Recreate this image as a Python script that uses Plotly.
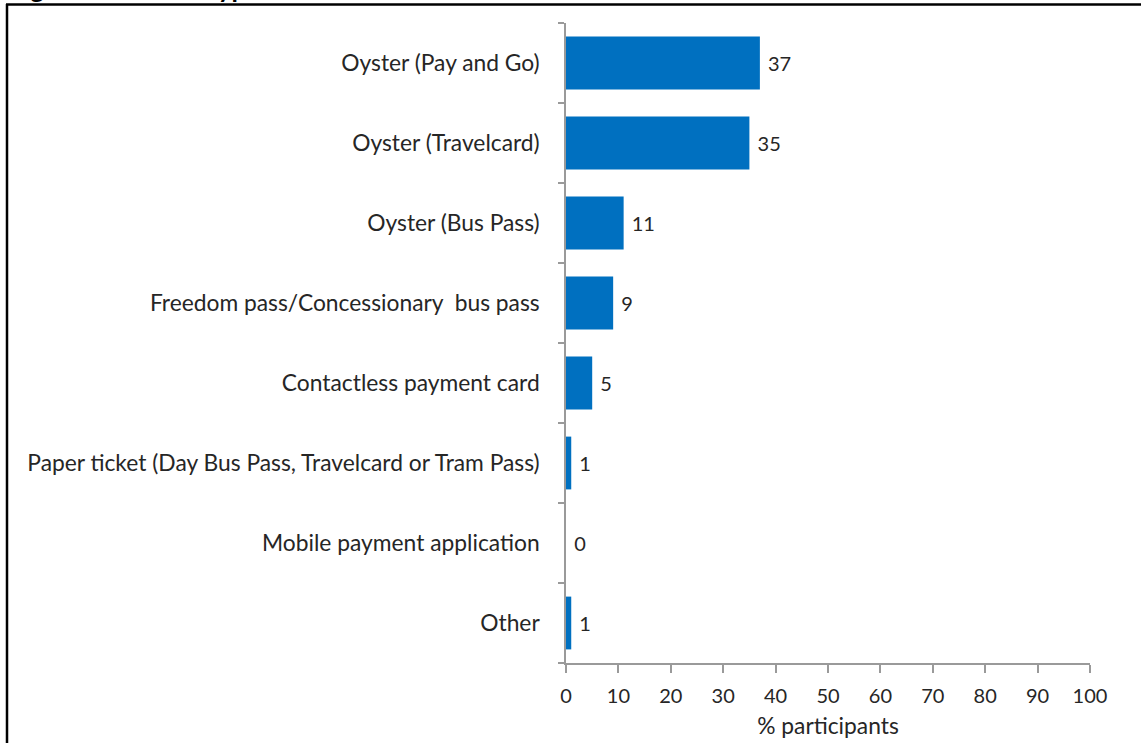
import plotly.graph_objects as go

categories = [
    "Oyster (Pay and Go)",
    "Oyster (Travelcard)",
    "Oyster (Bus Pass)",
    "Freedom pass/Concessionary  bus pass",
    "Contactless payment card",
    "Paper ticket (Day Bus Pass, Travelcard or Tram Pass)",
    "Mobile payment application",
    "Other",
]
values = [37, 35, 11, 9, 5, 1, 0, 1]
x_ticks = [0, 10, 20, 30, 40, 50, 60, 70, 80, 90, 100]
x_title = "% participants"
title_text = "<b>Figure 14: Ticket type</b>"

FONT = "Lato"
FS = 20
FS_CAT = 22.8
TXT = "#262626"
AX = "#9a9a9a"

W, H = 1141, 743
L, R, T, B = 566, 51, 23, 80
pw, ph = W - L - R, H - T - B

def px_x(p):
    return (p - L) / pw

def px_y(p):
    return (H - B - p) / ph

fig = go.Figure()
fig.add_trace(go.Bar(
    y=categories, x=values, orientation="h",
    marker=dict(color="#0070C0", line=dict(width=0)),
    width=0.66,
    text=[" " + str(v) for v in values], textposition="outside",
    constraintext="none",
    textfont=dict(family=FONT, size=FS, color=TXT),
    cliponaxis=False,
))

fig.update_layout(
    width=W, height=H,
    margin=dict(l=L, r=R, t=T, b=B, autoexpand=False),
    paper_bgcolor="white", plot_bgcolor="white",
    showlegend=False,
    font=dict(family=FONT, size=FS, color=TXT),
    xaxis=dict(
        range=[0, 100], tickvals=x_ticks, showgrid=False, zeroline=False,
        showline=True, linecolor=AX, linewidth=1.5,
        ticks="outside", ticklen=8, tickcolor=AX, tickwidth=1.5,
        ticklabelstandoff=6,
        tickfont=dict(family=FONT, size=FS, color=TXT),
        title=dict(text=x_title, font=dict(family=FONT, size=FS_CAT, color=TXT), standoff=12),
    ),
    yaxis=dict(
        categoryorder="array", categoryarray=categories[::-1],
        autorange=False, range=[-0.5, len(categories) - 0.5],
        showgrid=False, zeroline=False,
        showline=True, linecolor=AX, linewidth=1.5,
        ticks="outside", ticklen=6, tickcolor=AX, tickwidth=1.5,
        tickson="boundaries", ticklabelstandoff=20,
        tickfont=dict(family=FONT, size=FS_CAT, color=TXT),
    ),
    shapes=[
        dict(type="line", xref="paper", yref="paper",
             x0=px_x(6), x1=px_x(1141), y0=px_y(4.5), y1=px_y(4.5),
             line=dict(color="black", width=2.5)),
        dict(type="line", xref="paper", yref="paper",
             x0=px_x(7), x1=px_x(7), y0=px_y(4), y1=px_y(743),
             line=dict(color="black", width=2.5)),
    ],
    annotations=[
        dict(text=title_text, xref="paper", yref="paper",
             x=px_x(7), y=px_y(6.5), xanchor="left", yanchor="bottom",
             showarrow=False, font=dict(family=FONT, size=26, color="black")),
    ],
)

fig.write_html(
    "out.html",
    config={"displayModeBar": False},
    post_script="document.body.style.margin='0';document.body.style.overflow='hidden';",
)
